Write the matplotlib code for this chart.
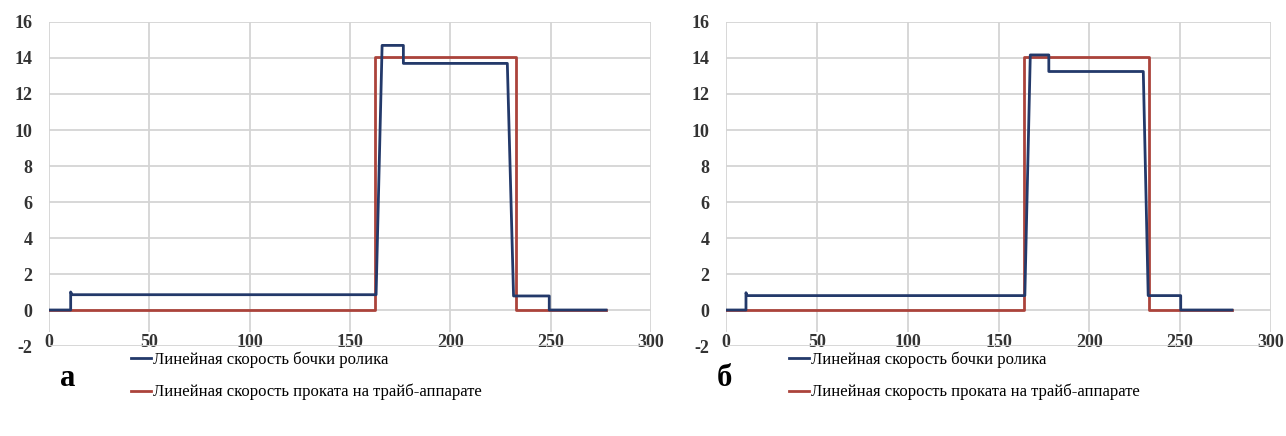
import matplotlib
matplotlib.use("Agg")
import matplotlib.pyplot as plt
from matplotlib.lines import Line2D

plt.rcParams['font.family'] = ['Liberation Serif', 'DejaVu Serif']
plt.rcParams['axes.unicode_minus'] = False

# panel a
a_roll_x = [0, 10.8, 10.8, 11.5, 163.0, 166.0, 176.6, 176.6, 228.4, 231.5, 249.3, 249.3, 277.6]
a_roll_y = [0, 0, 1.0, 0.85, 0.85, 14.7, 14.7, 13.7, 13.7, 0.78, 0.78, 0, 0]
a_strip_x = [0, 162.7, 162.7, 232.5, 232.5, 277.6]
a_strip_y = [0, 0, 14.05, 14.05, 0, 0]

# panel b
b_roll_x = [0, 11.0, 11.0, 11.5, 164.5, 167.5, 177.7, 177.7, 229.7, 232.4, 250.3, 250.3, 278.5]
b_roll_y = [0, 0, 0.96, 0.8, 0.8, 14.17, 14.17, 13.25, 13.25, 0.8, 0.8, 0, 0]
b_strip_x = [0, 164.0, 164.0, 233.0, 233.0, 278.5]
b_strip_y = [0, 0, 14.05, 14.05, 0, 0]

x_ticks = [0, 50, 100, 150, 200, 250, 300]
y_ticks = [-2, 0, 2, 4, 6, 8, 10, 12, 14, 16]
legend_labels = ["Линейная скорость бочки ролика",
                 "Линейная скорость проката на трайб-аппарате"]
panel_letters = ["а", "б"]

BLUE = "#23396a"
RED = "#ab433b"
GRID = "#d4d4d4"


def draw_panel(ax, roll_x, roll_y, strip_x, strip_y):
    ax.set_xlim(0, 300)
    ax.set_ylim(-2, 16)
    ax.set_xticks(x_ticks)
    ax.set_yticks(y_ticks)
    ax.grid(True, color=GRID, linewidth=1.3)
    ax.set_axisbelow(True)
    for s in ax.spines.values():
        s.set_visible(False)
    ax.tick_params(length=0, labelsize=13)
    ax.tick_params(axis='x', pad=-9)
    ax.tick_params(axis='y', pad=12)
    for lbl in ax.get_xticklabels() + ax.get_yticklabels():
        lbl.set_fontweight('bold')
        lbl.set_color('#333333')
    for lbl in ax.get_xticklabels():
        lbl.set_bbox(dict(facecolor='white', edgecolor='none', pad=1))
    ax.plot(strip_x, strip_y, color=RED, linewidth=2.0, zorder=3)
    ax.plot(roll_x, roll_y, color=BLUE, linewidth=2.0, zorder=4)


fig = plt.figure(figsize=(12.86, 4.36), dpi=100)
ax1 = fig.add_axes([49 / 1286, 1 - 346 / 436, 602 / 1286, 324 / 436])
ax2 = fig.add_axes([726 / 1286, 1 - 346 / 436, 545 / 1286, 324 / 436])

draw_panel(ax1, a_roll_x, a_roll_y, a_strip_x, a_strip_y)
draw_panel(ax2, b_roll_x, b_roll_y, b_strip_x, b_strip_y)

handles = [Line2D([], [], color=BLUE, linewidth=2.0),
           Line2D([], [], color=RED, linewidth=2.0)]

for letter, lx, tx in [(panel_letters[0], 124, 68), (panel_letters[1], 782, 724)]:
    fig.legend(handles, legend_labels, loc='upper left',
               bbox_to_anchor=(lx / 1286, 1 - 345 / 436), frameon=False,
               fontsize=12, handlelength=1.2, handletextpad=0.15,
               labelspacing=0.95, borderaxespad=0)
    fig.text(tx / 1286, 1 - 378 / 436, letter, fontsize=22, fontweight='bold',
             ha='center', va='center')

fig.savefig("out.png", dpi=100)
